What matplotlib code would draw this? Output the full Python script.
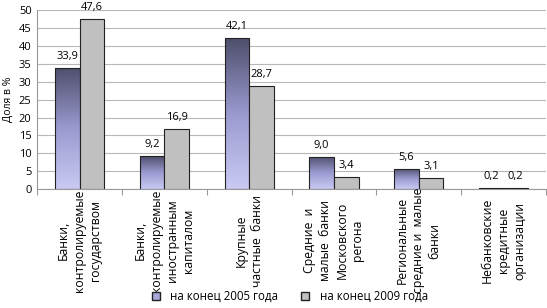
import numpy as np
import matplotlib
matplotlib.use("Agg")
import matplotlib.pyplot as plt
from matplotlib.colors import LinearSegmentedColormap
from matplotlib.patches import Patch

plt.rcParams["font.family"] = ["Open Sans", "DejaVu Sans"]
plt.rcParams["font.size"] = 8

categories = [
    "Банки,\nконтролируемые\nгосударством",
    "Банки,\nконтролируемые\nиностранным\nкапиталом",
    "Крупные\nчастные  банки",
    "Средние  и\nмалые  банки\nМосковского\nрегона",
    "Региональные\nсредние и  малые\nбанки",
    "Небанковские\nкредитные\nорганизации",
]
values_2005 = [33.9, 9.2, 42.1, 9.0, 5.6, 0.2]
values_2009 = [47.6, 16.9, 28.7, 3.4, 3.1, 0.2]
labels_2005 = ["33,9", "9,2", "42,1", "9,0", "5,6", "0,2"]
labels_2009 = ["47,6", "16,9", "28,7", "3,4", "3,1", "0,2"]
series_names = ["на конец 2005 года", "на конец 2009 года"]

fig = plt.figure(figsize=(5.47, 3.08), dpi=100)
ax = fig.add_axes([0.068, 0.386, 0.93, 0.581])

x = np.arange(len(categories))
w = 0.29
grad = LinearSegmentedColormap.from_list("g", ["#cacaf4", "#9a9ad0", "#4e4e6c"])

bars1 = ax.bar(x - w / 2, values_2005, w, facecolor="none", edgecolor="#222222", linewidth=0.8, zorder=3)
bars2 = ax.bar(x + w / 2, values_2009, w, color="#c0c0c0", edgecolor="#222222", linewidth=0.8, zorder=3)

# vertical gradient fill for the 2005 bars
g = np.linspace(0, 1, 256).reshape(-1, 1)
for b in bars1:
    x0, y0 = b.get_x(), b.get_y()
    im = ax.imshow(g, cmap=grad, aspect="auto", origin="lower",
                   extent=[x0, x0 + b.get_width(), y0, y0 + b.get_height()], zorder=2.5)
    im.set_clip_path(b)

for b, t in zip(bars1, labels_2005):
    ax.text(b.get_x() + b.get_width() / 2, b.get_height() + 1.7, t, ha="center", va="bottom", fontsize=8)
for b, t in zip(bars2, labels_2009):
    ax.text(b.get_x() + b.get_width() / 2, b.get_height() + 1.7, t, ha="center", va="bottom", fontsize=8)

ax.set_xlim(-0.5, len(categories) - 0.5)
ax.set_ylim(0, 50)
ax.set_yticks(np.arange(0, 51, 5))
ax.yaxis.grid(True, color="#b8b8b8", linewidth=0.8)
ax.set_axisbelow(True)
ax.tick_params(axis="y", length=0, pad=4, labelsize=8)
ax.set_xticks(np.arange(-0.5, len(categories), 1))
ax.set_xticklabels([])
ax.tick_params(axis="x", length=4, color="#999999", direction="out")
for s in ["top", "right"]:
    ax.spines[s].set_visible(False)
ax.spines["left"].set_color("#999999")
ax.spines["bottom"].set_color("#999999")

for i, c in enumerate(categories):
    ax.annotate(c, xy=(i, 0), xytext=(0, -37), textcoords="offset points",
                rotation=90, ha="center", va="center", multialignment="center",
                linespacing=1.3, fontsize=8.8, annotation_clip=False)

ax.set_ylabel("Доля в %", fontsize=7.5)
ax.yaxis.set_label_coords(-0.046, 0.5)

handles = [Patch(facecolor="#a8a8dc", edgecolor="#222222"),
           Patch(facecolor="#c0c0c0", edgecolor="#222222")]
fig.legend(handles, series_names, loc="center", bbox_to_anchor=(0.53, 0.038), ncol=2,
           frameon=False, fontsize=8.3, handlelength=0.7, handleheight=0.7, columnspacing=2.0,
           handletextpad=0.9)

fig.savefig("out.png", dpi=100)
